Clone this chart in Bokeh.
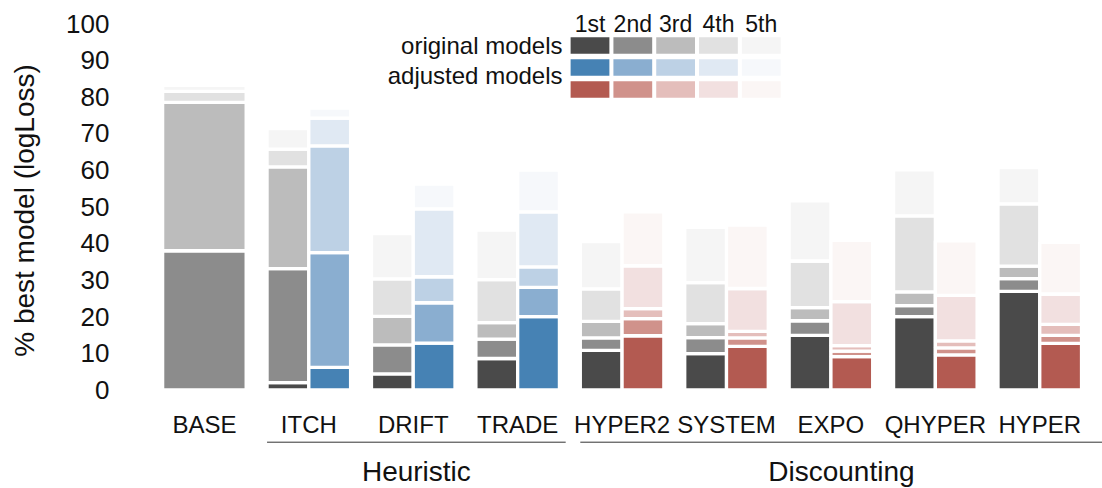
import math
from bokeh.plotting import figure
from bokeh.models import Range1d, FixedTicker, ColumnDataSource
from bokeh.core.properties import value
from bokeh.embed import file_html
from bokeh.resources import INLINE

# ---------------- data ----------------
categories = ["BASE", "ITCH", "DRIFT", "TRADE", "HYPER2", "SYSTEM", "EXPO", "QHYPER", "HYPER"]
group_names = ["Heuristic", "Discounting"]
group_members = [["ITCH", "DRIFT", "TRADE"], ["HYPER2", "SYSTEM", "EXPO", "QHYPER", "HYPER"]]
rank_labels = ["1st", "2nd", "3rd", "4th", "5th"]
y_ticks = [0, 10, 20, 30, 40, 50, 60, 70, 80, 90, 100]
y_title = "% best model (logLoss)"

# % of cases in which the model is ranked 1st..5th (original models)
orig_1st = [0.0, 2.0, 4.4, 8.6, 10.8, 9.9, 14.9, 20.0, 26.9]
orig_2nd = [38.0, 31.1, 7.9, 5.3, 3.4, 4.4, 4.0, 3.0, 3.5]
orig_3rd = [40.5, 27.8, 7.8, 4.5, 4.5, 3.8, 3.6, 3.8, 3.4]
orig_4th = [3.0, 4.8, 10.2, 11.7, 8.9, 11.2, 12.7, 20.7, 17.0]
orig_5th = [1.6, 5.6, 12.4, 13.5, 12.9, 15.1, 16.4, 12.6, 9.9]

# adjusted models (BASE has none)
adj_1st = [None, 6.2, 12.8, 20.0, 14.8, 11.9, 9.1, 9.6, 12.7]
adj_2nd = [None, 31.3, 11.0, 8.0, 4.7, 2.3, 1.5, 1.9, 2.2]
adj_3rd = [None, 29.1, 7.1, 5.6, 2.7, 1.8, 1.5, 1.9, 3.0]
adj_4th = [None, 7.6, 18.5, 15.0, 11.7, 11.7, 12.0, 12.4, 8.3]
adj_5th = [None, 2.7, 6.8, 11.4, 14.7, 17.3, 16.7, 14.9, 14.1]

# ---------------- style ----------------
gray_cols = ["#4a4a4a", "#8c8c8c", "#bcbcbc", "#e1e1e1", "#f5f5f5"]
blue_cols = ["#4682b4", "#8aaed0", "#bdd1e5", "#e0e9f3", "#f6f8fb"]
red_cols = ["#b35a51", "#d0928b", "#e4bebb", "#f2e0e0", "#fbf6f5"]
FONT = "Liberation Sans"

orig = [orig_1st, orig_2nd, orig_3rd, orig_4th, orig_5th]
adj = [adj_1st, adj_2nd, adj_3rd, adj_4th, adj_5th]

BAR_W = 0.4
heur = set(group_members[0])

L, R, B, T, C = [], [], [], [], []
for i, cat in enumerate(categories):
    has_adj = adj[0][i] is not None
    if has_adj:
        left, right = i - BAR_W, i
    else:
        left, right = i - BAR_W, i + BAR_W
    bottom = 0.0
    for r in range(5):
        v = orig[r][i]
        if v > 0:
            L.append(left); R.append(right); B.append(bottom); T.append(bottom + v); C.append(gray_cols[r])
        bottom += v
    if has_adj:
        cols = blue_cols if cat in heur else red_cols
        bottom = 0.0
        for r in range(5):
            v = adj[r][i]
            if v > 0:
                L.append(i); R.append(i + BAR_W); B.append(bottom); T.append(bottom + v); C.append(cols[r])
            bottom += v

bars = ColumnDataSource(dict(left=L, right=R, bottom=B, top=T, color=C))

# ---------------- figure (pixel layout -> data ranges) ----------------
px_per_x = 104.42
px_per_y = 3.665
c0_px = 203.9          # pixel position of first category
zero_px = 389.5        # pixel position of y = 0
W, H = 1102, 488
x_start = -c0_px / px_per_x
x_end = x_start + W / px_per_x
y_end = zero_px / px_per_y
y_start = y_end - H / px_per_y

def xd(px):
    return (px - c0_px) / px_per_x

def yd(py):
    return (zero_px - py) / px_per_y

p = figure(width=W, height=H, x_range=Range1d(x_start, x_end), y_range=Range1d(y_start, y_end),
           output_backend="svg", toolbar_location=None, x_axis_location=None,
           min_border_left=0, min_border_right=0, min_border_top=0, min_border_bottom=0)
p.outline_line_color = None
p.xgrid.visible = False
p.ygrid.visible = False
p.background_fill_color = "white"
p.border_fill_color = "white"

ax = p.yaxis[0]
ax.fixed_location = xd(120)
ax.ticker = FixedTicker(ticks=y_ticks)
ax.axis_line_color = None
ax.major_tick_line_color = None
ax.minor_tick_line_color = None
ax.major_tick_out = 0
ax.major_label_text_font = FONT
ax.major_label_text_font_size = "26px"
ax.major_label_text_color = "#111111"
ax.major_label_standoff = 11

p.quad(left="left", right="right", bottom="bottom", top="top", fill_color="color",
       line_color="white", line_width=3.3, source=bars)

# y title
p.text(x=[xd(24)], y=[yd(210)], text=[y_title], angle=math.pi / 2,
       text_font=value(FONT), text_font_size=value("28px"), text_color="#111111",
       text_align="center", text_baseline="middle")

# category labels
cat_y = yd(424)
p.text(x=list(range(len(categories))), y=[cat_y] * len(categories), text=categories,
       text_font=value(FONT), text_font_size=value("24px"), text_color="#111111",
       text_align="center", text_baseline="middle")

# group lines and labels
line_y = yd(441.7)
grp_label_y = yd(471.2)
gx0, gx1, gxm = [], [], []
for k, members in enumerate(group_members):
    idx = [categories.index(m) for m in members]
    a = min(idx) - 0.4
    b = max(idx) + 0.46 if k < len(group_members) - 1 else x_end
    gx0.append(a); gx1.append(b); gxm.append((a + b) / 2)
p.segment(x0=gx0, y0=[line_y] * len(gx0), x1=gx1, y1=[line_y] * len(gx0),
          line_color="#333333", line_width=1)
p.text(x=gxm, y=[grp_label_y] * len(gxm), text=group_names, text_font=value(FONT),
       text_font_size=value("28px"), text_color="#111111", text_align="center",
       text_baseline="middle")

# legend grid
leg_x0 = xd(589.5)
leg_dx = 0.41
leg_rows_y = [yd(45), yd(67), yd(89)]
sw_hw = 0.2015
sw_hh = 2.73
row_cols = [gray_cols, blue_cols, red_cols]
lL, lR, lB, lT, lC = [], [], [], [], []
for ri, ry in enumerate(leg_rows_y):
    for c in range(5):
        cx = leg_x0 + c * leg_dx
        lL.append(cx - sw_hw); lR.append(cx + sw_hw)
        lB.append(ry - sw_hh); lT.append(ry + sw_hh)
        lC.append(row_cols[ri][c])
p.quad(left=lL, right=lR, bottom=lB, top=lT, fill_color=lC, line_color="white", line_width=3.3)
p.text(x=[leg_x0 + c * leg_dx for c in range(5)], y=[yd(23.5)] * 5, text=rank_labels,
       text_font=value(FONT), text_font_size=value("23px"), text_color="#111111",
       text_align="center", text_baseline="middle")
p.text(x=[xd(562)] * 2, y=[yd(45), yd(74.5)], text=["original models", "adjusted models"],
       text_font=value(FONT), text_font_size=value("24px"), text_color="#111111",
       text_align="right", text_baseline="middle")

open("out.html", "w").write(file_html(p, INLINE))
